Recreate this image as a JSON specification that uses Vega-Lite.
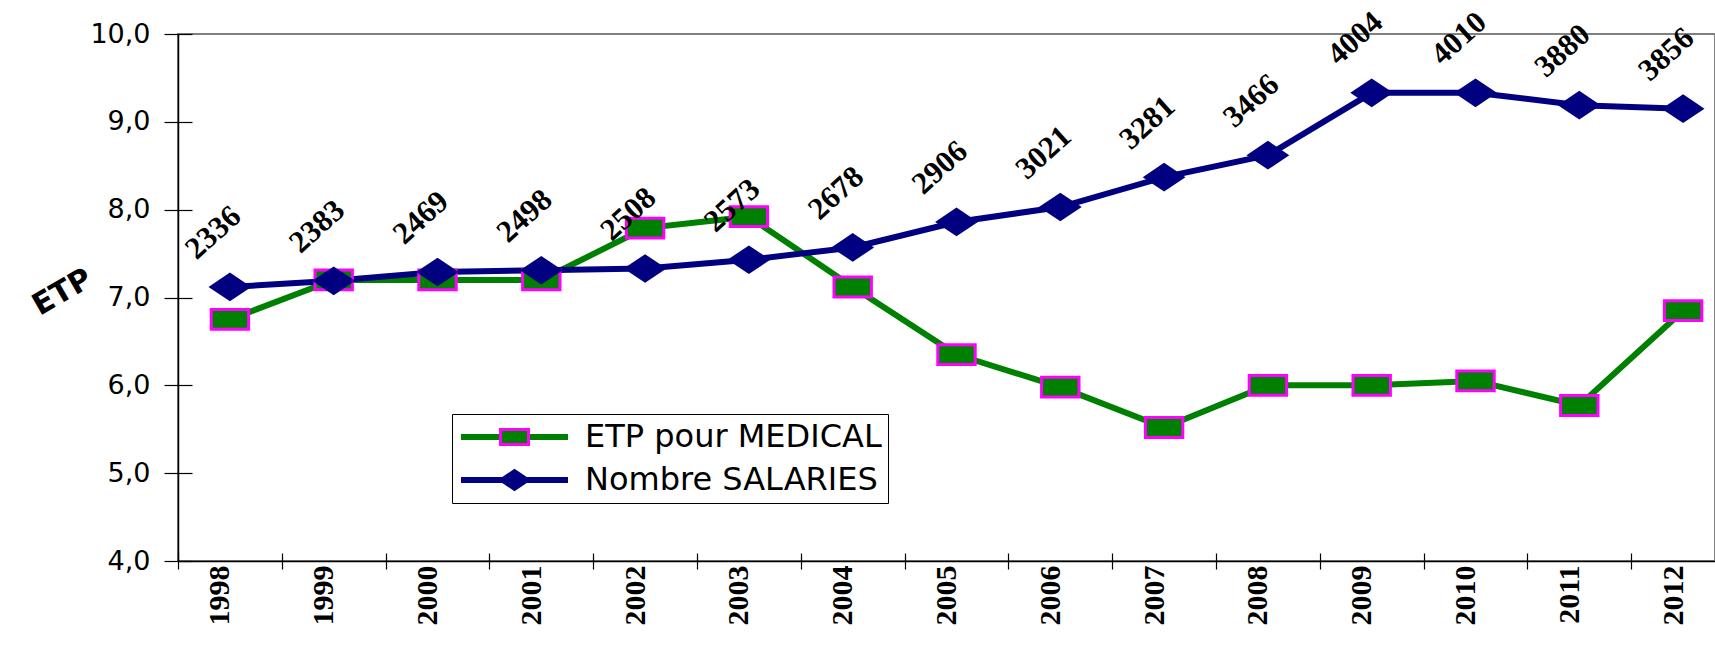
{
  "$schema": "https://vega.github.io/schema/vega-lite/v6.json",
  "width": 1537,
  "height": 527,
  "autosize": "none",
  "padding": {"left": 178, "top": 34, "right": 0, "bottom": 91},
  "background": "white",
  "config": {
    "view": {"stroke": "#808080", "strokeWidth": 2},
    "axis": {"grid": false}
  },
  "data": {
    "values": [
      {"year": "1998", "series": "ETP pour MEDICAL", "value": 6.75},
      {"year": "1999", "series": "ETP pour MEDICAL", "value": 7.2},
      {"year": "2000", "series": "ETP pour MEDICAL", "value": 7.2},
      {"year": "2001", "series": "ETP pour MEDICAL", "value": 7.2},
      {"year": "2002", "series": "ETP pour MEDICAL", "value": 7.79},
      {"year": "2003", "series": "ETP pour MEDICAL", "value": 7.92},
      {"year": "2004", "series": "ETP pour MEDICAL", "value": 7.12},
      {"year": "2005", "series": "ETP pour MEDICAL", "value": 6.35},
      {"year": "2006", "series": "ETP pour MEDICAL", "value": 5.98},
      {"year": "2007", "series": "ETP pour MEDICAL", "value": 5.52},
      {"year": "2008", "series": "ETP pour MEDICAL", "value": 6.0},
      {"year": "2009", "series": "ETP pour MEDICAL", "value": 6.0},
      {"year": "2010", "series": "ETP pour MEDICAL", "value": 6.05},
      {"year": "2011", "series": "ETP pour MEDICAL", "value": 5.77},
      {"year": "2012", "series": "ETP pour MEDICAL", "value": 6.85},
      {"year": "1998", "series": "Nombre SALARIES", "value": 7.12, "count": 2336},
      {"year": "1999", "series": "Nombre SALARIES", "value": 7.19, "count": 2383},
      {"year": "2000", "series": "Nombre SALARIES", "value": 7.29, "count": 2469},
      {"year": "2001", "series": "Nombre SALARIES", "value": 7.31, "count": 2498},
      {"year": "2002", "series": "Nombre SALARIES", "value": 7.33, "count": 2508},
      {"year": "2003", "series": "Nombre SALARIES", "value": 7.43, "count": 2573},
      {"year": "2004", "series": "Nombre SALARIES", "value": 7.57, "count": 2678},
      {"year": "2005", "series": "Nombre SALARIES", "value": 7.86, "count": 2906},
      {"year": "2006", "series": "Nombre SALARIES", "value": 8.03, "count": 3021},
      {"year": "2007", "series": "Nombre SALARIES", "value": 8.37, "count": 3281},
      {"year": "2008", "series": "Nombre SALARIES", "value": 8.62, "count": 3466},
      {"year": "2009", "series": "Nombre SALARIES", "value": 9.33, "count": 4004},
      {"year": "2010", "series": "Nombre SALARIES", "value": 9.33, "count": 4010},
      {"year": "2011", "series": "Nombre SALARIES", "value": 9.19, "count": 3880},
      {"year": "2012", "series": "Nombre SALARIES", "value": 9.15, "count": 3856}
    ]
  },
  "layer": [
    {
      "mark": {"type": "line", "strokeWidth": 6},
      "encoding": {
        "x": {
          "field": "year", "type": "ordinal", "bandPosition": 0.5,
          "scale": {"type": "band", "range": [0, 1557], "paddingInner": 0, "paddingOuter": 0},
          "axis": {
            "orient": "bottom", "title": null, "tickBand": "extent",
            "domainColor": "black", "domainWidth": 1.5,
            "tickColor": "black", "tickWidth": 1.2, "tickSize": 8,
            "labelAngle": 270, "labelFont": "Liberation Serif", "labelFontWeight": "bold",
            "labelFontSize": 30, "labelColor": "black", "labelPadding": -4, "labelOffset": -10,
            "labelOverlap": false, "labelBound": false
          }
        },
        "y": {
          "field": "value", "type": "quantitative",
          "scale": {"domain": [4, 10], "nice": false, "zero": false},
          "axis": {
            "orient": "left", "values": [4, 5, 6, 7, 8, 9, 10], "format": ".1f",
            "labelExpr": "replace(datum.label, '.', ',')",
            "domainColor": "black", "domainWidth": 1.5,
            "tickColor": "black", "tickWidth": 1.2, "tickSize": 14,
            "labelFont": "DejaVu Sans", "labelFontSize": 27, "labelColor": "black", "labelPadding": 14,
            "title": "ETP", "titleAngle": 330, "titleX": -116, "titleY": 258,
            "titleAlign": "center", "titleBaseline": "middle",
            "titleFont": "DejaVu Sans", "titleFontWeight": "bold", "titleFontSize": 30, "titleColor": "black"
          }
        },
        "color": {
          "field": "series", "type": "nominal",
          "scale": {"range": ["#008000", "#000080"]},
          "legend": {
            "orient": "none", "legendX": 274, "legendY": 380, "title": null,
            "symbolType": "stroke", "symbolSize": 11449, "symbolStrokeWidth": 6,
            "clipHeight": 34, "rowPadding": 9, "padding": 6,
            "strokeColor": "black", "fillColor": "white",
            "labelFont": "DejaVu Sans", "labelFontSize": 32, "labelColor": "black",
            "labelOffset": 14, "labelLimit": 700
          }
        }
      }
    },
    {
      "mark": {"type": "point", "filled": true, "strokeWidth": 3, "size": 1400, "opacity": 1},
      "encoding": {
        "x": {
          "field": "year", "type": "ordinal", "bandPosition": 0.5,
          "scale": {"type": "band", "range": [0, 1557], "paddingInner": 0, "paddingOuter": 0},
          "axis": {
            "orient": "bottom", "title": null, "tickBand": "extent", "domain": false,
            "labels": false, "tickColor": "black", "tickWidth": 1.2, "tickSize": -8
          }
        },
        "y": {
          "field": "value", "type": "quantitative",
          "scale": {"domain": [4, 10], "nice": false, "zero": false},
          "axis": {
            "orient": "left", "values": [4, 5, 6, 7, 8, 9, 10], "title": null, "domain": false,
            "labels": false, "tickColor": "black", "tickWidth": 1.2, "tickSize": -14
          }
        },
        "fill": {
          "field": "series", "type": "nominal",
          "scale": {"domain": ["ETP pour MEDICAL", "Nombre SALARIES"], "range": ["#008000", "#000080"]},
          "legend": {
            "orient": "none", "legendX": 274, "legendY": 380, "title": null,
            "symbolSize": 784, "symbolStrokeWidth": 3, "symbolOffset": 41,
            "clipHeight": 34, "rowPadding": 9, "padding": 6,
            "labelFontSize": 1, "labelExpr": "''"
          }
        },
        "stroke": {
          "field": "series", "type": "nominal",
          "scale": {"domain": ["ETP pour MEDICAL", "Nombre SALARIES"], "range": ["#FF00FF", "#000080"]},
          "legend": {
            "orient": "none", "legendX": 274, "legendY": 380, "title": null,
            "symbolSize": 784, "symbolStrokeWidth": 3, "symbolOffset": 41,
            "clipHeight": 34, "rowPadding": 9, "padding": 6,
            "labelFontSize": 1, "labelExpr": "''"
          }
        },
        "shape": {
          "field": "series", "type": "nominal",
          "scale": {"domain": ["ETP pour MEDICAL", "Nombre SALARIES"], "range": ["M-1,-0.53H1V0.53H-1Z", "M-1,0L0,-0.67L1,0L0,0.67Z"]},
          "legend": {
            "orient": "none", "legendX": 274, "legendY": 380, "title": null,
            "symbolSize": 784, "symbolStrokeWidth": 3, "symbolOffset": 41,
            "clipHeight": 34, "rowPadding": 9, "padding": 6,
            "labelFontSize": 1, "labelExpr": "''"
          }
        }
      }
    },
    {
      "transform": [{"filter": "datum.series == 'Nombre SALARIES'"}],
      "mark": {
        "type": "text", "font": "Liberation Serif", "fontSize": 31, "fontWeight": "bold", "angle": 318,
        "align": "center", "baseline": "middle", "dx": 24, "dy": -51, "color": "black"
      },
      "encoding": {
        "x": {
          "field": "year", "type": "ordinal", "bandPosition": 0.5,
          "scale": {"type": "band", "range": [0, 1557], "paddingInner": 0, "paddingOuter": 0},
          "axis": null
        },
        "y": {
          "field": "value", "type": "quantitative",
          "scale": {"domain": [4, 10], "nice": false, "zero": false},
          "axis": null
        },
        "text": {"field": "count", "type": "quantitative", "format": "d"}
      }
    }
  ],
  "resolve": {"axis": {"x": "independent", "y": "independent"}}
}
